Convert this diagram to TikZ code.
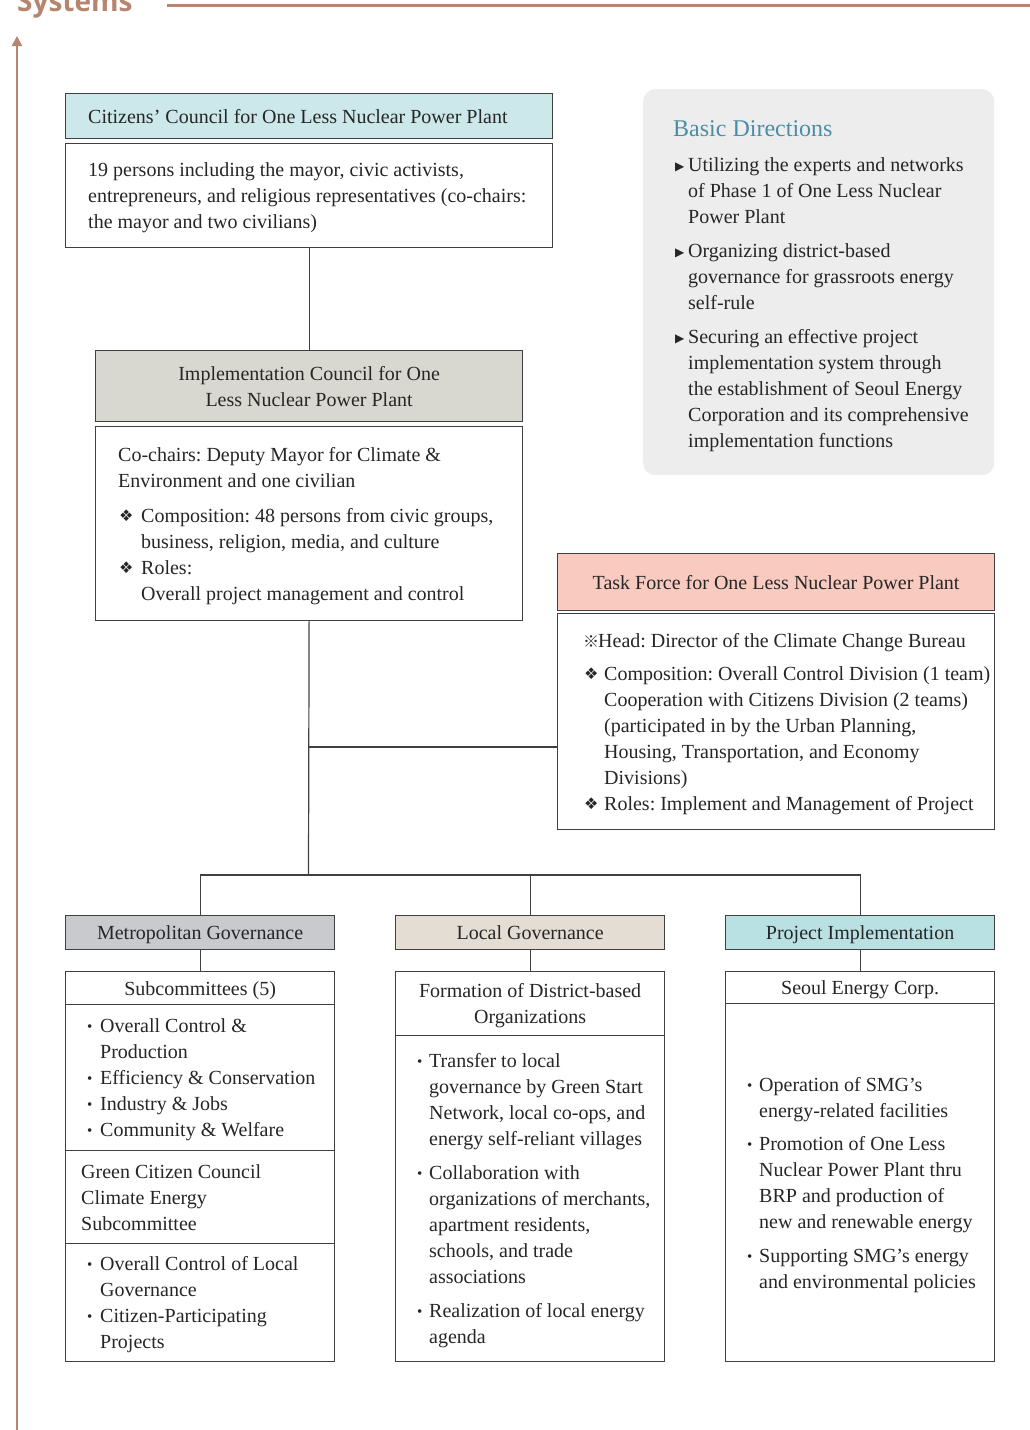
\documentclass[tikz,border=0pt]{standalone}
\usepackage{fontspec}
\setmainfont{Liberation Serif}
\newfontfamily\symf{DejaVu Sans}
\newfontfamily\cjkf{Noto Sans CJK SC}
\newfontfamily\headf{Open Sans}
\usetikzlibrary{arrows.meta}
\definecolor{brownc}{HTML}{B58570}
\definecolor{cyanc}{HTML}{CCE8EA}
\definecolor{implc}{HTML}{D9D8D0}
\definecolor{taskc}{HTML}{F9CBC0}
\definecolor{metroc}{HTML}{C8CACD}
\definecolor{localc}{HTML}{E3DDD3}
\definecolor{projc}{HTML}{B9E1E3}
\definecolor{basicc}{HTML}{EDEDED}
\definecolor{bluec}{HTML}{4B8DA6}
\definecolor{textc}{HTML}{262626}
\definecolor{linec}{HTML}{404040}
\newcommand\diam[1]{\makebox[#1][l]{\hspace{1pt}\raisebox{0.5pt}{\symf\fontsize{16}{16}\selectfont ❖}}}
\newcommand\bul[1]{\makebox[#1][l]{\raisebox{1pt}{\fontsize{15}{15}\selectfont •}}}
\newcommand\tri{\makebox[15pt][l]{\hspace{2pt}\raisebox{1pt}{\symf\fontsize{12}{12}\selectfont ▶}}}
\newcommand\refm{\makebox[15pt][l]{\cjkf\fontsize{16}{16}\selectfont ※}}
\tikzset{
  box/.style={draw=linec, line width=1.2pt, inner sep=0pt, anchor=north west},
  ctr/.style={box, align=center, text=textc, text depth=0pt,
    font=\frenchspacing\fontsize{20}{26}\selectfont},
  txt/.style={inner sep=0pt, anchor=west, align=left, text=textc, text depth=0pt,
    font=\frenchspacing\fontsize{20}{26}\selectfont},
  conn/.style={draw=linec, line width=1.2pt},
}
\begin{document}
\begin{tikzpicture}[x=1pt,y=-1pt]
\useasboundingbox (0,0) rectangle (1030,1430);
\clip (0,0) rectangle (1030,1430);

% title strip
\node[anchor=base west, inner sep=0pt, text=brownc, font=\headf\bfseries\fontsize{28}{28}\selectfont] (title) at (17,11) {Systems};
\coordinate (ls) at (167,5.3);
\coordinate (le) at (1030,5.3);
\draw[brownc, line width=2.6pt] (ls) -- (le);
\coordinate (ab) at (17,1432);
\coordinate (at) at (17,36);
\draw[brownc, line width=2.3pt, -{Triangle[width=10pt,length=10pt]}] (ab) -- (at);

% Citizens' Council
\node[box, fill=cyanc, minimum width=487pt, minimum height=45pt] (cch) at (65,93) {};
\node[txt] (ccht) at ([xshift=23pt]cch.west) {Citizens’ Council for One Less Nuclear Power Plant};
\node[box, fill=white, minimum width=487pt, minimum height=104pt] (ccb) at (65,143) {};
\node[txt] (ccbt) at ([xshift=23pt]ccb.west)
  {19 persons including the mayor, civic activists,\\
   entrepreneurs, and religious representatives (co-chairs:\\
   the mayor and two civilians)};

% Implementation Council
\node[ctr, fill=implc, minimum width=427pt, minimum height=71pt] (ich) at (95,350)
  {Implementation Council for One\\Less Nuclear Power Plant};
\node[box, fill=white, minimum width=427pt, minimum height=194pt] (icb) at (95,426) {};
\node[txt] (icbt) at ([xshift=23pt]icb.west)
  {Co-chairs: Deputy Mayor for Climate \&\\
   Environment and one civilian\\[9pt]
   \diam{23pt}Composition: 48 persons from civic groups,\\
   \hspace*{23pt}business, religion, media, and culture\\
   \diam{23pt}Roles:\\
   \hspace*{23pt}Overall project management and control};

% Basic Directions
\node[anchor=north west, fill=basicc, rounded corners=12pt, inner sep=0pt,
  minimum width=351pt, minimum height=386pt] (bd) at (643,89) {};
\node[txt] (bdt) at ([xshift=30pt,yshift=-2pt]bd.west)
  {{\color{bluec}\fontsize{24}{28}\selectfont Basic Directions}\\[8.5pt]
   \tri Utilizing the experts and networks\\
   \hspace*{15pt}of Phase 1 of One Less Nuclear\\
   \hspace*{15pt}Power Plant\\[8pt]
   \tri Organizing district-based\\
   \hspace*{15pt}governance for grassroots energy\\
   \hspace*{15pt}self-rule\\[8pt]
   \tri Securing an effective project\\
   \hspace*{15pt}implementation system through\\
   \hspace*{15pt}the establishment of Seoul Energy\\
   \hspace*{15pt}Corporation and its comprehensive\\
   \hspace*{15pt}implementation functions};

% Task Force
\node[ctr, fill=taskc, minimum width=437pt, minimum height=57pt] (tfh) at (557,553)
  {Task Force for One Less Nuclear Power Plant};
\node[box, fill=white, minimum width=437pt, minimum height=216pt] (tfb) at (557,613) {};
\node[txt] (tfbt) at ([xshift=26pt]tfb.west)
  {\refm Head: Director of the Climate Change Bureau\\[7pt]
   \diam{21pt}Composition: Overall Control Division (1 team)\\
   \hspace*{21pt}Cooperation with Citizens Division (2 teams)\\
   \hspace*{21pt}(participated in by the Urban Planning,\\
   \hspace*{21pt}Housing, Transportation, and Economy\\
   \hspace*{21pt}Divisions)\\
   \diam{21pt}Roles: Implement and Management of Project};

% column headers
\node[ctr, fill=metroc, minimum width=269pt, minimum height=34pt] (mh) at (65,915) {Metropolitan Governance};
\node[ctr, fill=localc, minimum width=269pt, minimum height=34pt] (lh) at (395,915) {Local Governance};
\node[ctr, fill=projc, minimum width=269pt, minimum height=34pt] (ph) at (725,915) {Project Implementation};

% Metropolitan column
\node[ctr, fill=white, minimum width=269pt, minimum height=33pt] (mb1) at (65,971) {Subcommittees (5)};
\node[box, fill=white, minimum width=269pt, minimum height=146pt] (mb2) at (65,1004) {};
\node[txt] (mb2t) at ([xshift=22pt]mb2.west)
  {\bul{13pt}Overall Control \&\\
   \hspace*{13pt}Production\\
   \bul{13pt}Efficiency \& Conservation\\
   \bul{13pt}Industry \& Jobs\\
   \bul{13pt}Community \& Welfare};
\node[box, fill=white, minimum width=269pt, minimum height=93pt] (mb3) at (65,1150) {};
\node[txt] (mb3t) at ([xshift=16pt]mb3.west)
  {Green Citizen Council\\Climate Energy\\Subcommittee};
\node[box, fill=white, minimum width=269pt, minimum height=118pt] (mb4) at (65,1243) {};
\node[txt] (mb4t) at ([xshift=22pt]mb4.west)
  {\bul{13pt}Overall Control of Local\\
   \hspace*{13pt}Governance\\
   \bul{13pt}Citizen-Participating\\
   \hspace*{13pt}Projects};

% Local column
\node[ctr, fill=white, minimum width=269pt, minimum height=64pt] (lb1) at (395,971)
  {Formation of District-based\\Organizations};
\node[box, fill=white, minimum width=269pt, minimum height=326pt] (lb2) at (395,1035) {};
\node[txt] (lb2t) at ([xshift=22pt]lb2.west)
  {\bul{12pt}Transfer to local\\
   \hspace*{12pt}governance by Green Start\\
   \hspace*{12pt}Network, local co-ops, and\\
   \hspace*{12pt}energy self-reliant villages\\[8pt]
   \bul{12pt}Collaboration with\\
   \hspace*{12pt}organizations of merchants,\\
   \hspace*{12pt}apartment residents,\\
   \hspace*{12pt}schools, and trade\\
   \hspace*{12pt}associations\\[8pt]
   \bul{12pt}Realization of local energy\\
   \hspace*{12pt}agenda};

% Project column
\node[ctr, fill=white, minimum width=269pt, minimum height=32pt] (pb1) at (725,971) {Seoul Energy Corp.};
\node[box, fill=white, minimum width=269pt, minimum height=358pt] (pb2) at (725,1003) {};
\node[txt] (pb2t) at ([xshift=22pt]pb2.west)
  {\bul{12pt}Operation of SMG’s\\
   \hspace*{12pt}energy-related facilities\\[7pt]
   \bul{12pt}Promotion of One Less\\
   \hspace*{12pt}Nuclear Power Plant thru\\
   \hspace*{12pt}BRP and production of\\
   \hspace*{12pt}new and renewable energy\\[8pt]
   \bul{12pt}Supporting SMG’s energy\\
   \hspace*{12pt}and environmental policies};

% connectors
\coordinate (bus) at (308.5,875);
\coordinate (tj) at (308.5,747);
\draw[conn] (ccb.south) -- (ich.north);
\draw[conn] (icb.south) -- (bus);
\draw[conn] (tj) -- (tj -| tfb.west);
\draw[conn] (mh.north) |- (bus) -| (ph.north);
\draw[conn] (lh.north) -- (lh.north |- bus);
\draw[conn] (mh.south) -- (mb1.north);
\draw[conn] (lh.south) -- (lb1.north);
\draw[conn] (ph.south) -- (pb1.north);
\end{tikzpicture}
\end{document}
